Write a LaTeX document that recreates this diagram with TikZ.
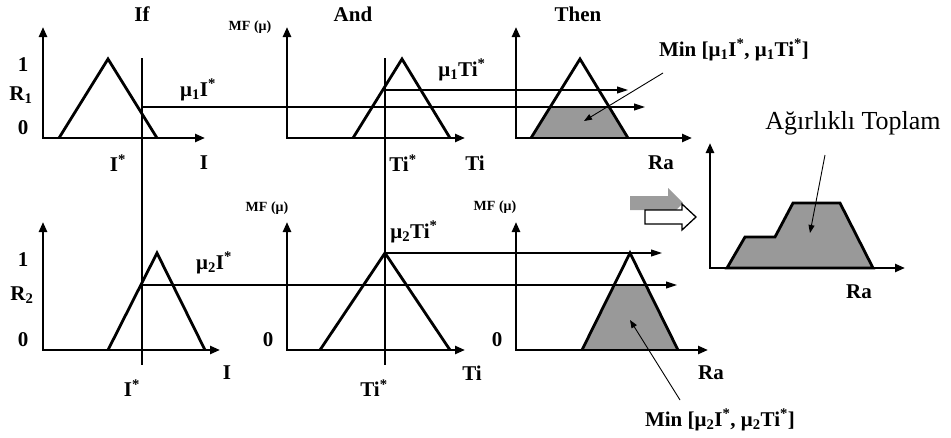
\documentclass[tikz,border=0pt]{standalone}
\usepackage{fontspec}
\setmainfont{Liberation Serif}
\usetikzlibrary{arrows.meta}
\definecolor{fillgrey}{HTML}{999999}
\definecolor{arrowgrey}{HTML}{9C9C9C}

\begin{document}
\begin{tikzpicture}[x=1pt,y=-1pt,
  axis/.style={line width=2.4pt,{Triangle[length=10pt,width=8pt]}-{Triangle[length=10pt,width=8pt]}},
  memb/.style={line width=2.8pt,line join=miter},
  cut/.style={line width=1.1pt,-{Triangle[length=11pt,width=7pt]}},
  guide/.style={line width=1.1pt},
  pointer/.style={line width=0.9pt,-{Triangle[length=8pt,width=6pt]}},
  lbl/.style={font=\bfseries\fontsize{21}{23}\selectfont,inner sep=0pt},
  mflbl/.style={font=\bfseries\fontsize{14}{15}\selectfont,inner sep=0pt},
]
\useasboundingbox (0,0) rectangle (951,437);

% clipped outputs
\fill[fillgrey] (531,138) -- (550.2,107) -- (609.2,107) -- (628,138) -- cycle;
\fill[fillgrey] (582,350) -- (614.2,285) -- (645.8,285) -- (678,350) -- cycle;

% I* and Ti* guides
\coordinate (ig top) at (142,58);
\coordinate (ig bot) at (142,365);
\coordinate (tg top) at (385,58);
\coordinate (tg bot) at (385,365);
\draw[guide] (ig top) -- (ig bot);
\draw[guide] (tg top) -- (tg bot);

% membership cuts
\coordinate (c1i) at (142,107);
\coordinate (c1ie) at (645,107);
\coordinate (c1t) at (385,90);
\coordinate (c1te) at (628,90);
\coordinate (c2i) at (142,285);
\coordinate (c2ie) at (677,285);
\coordinate (c2t) at (385,253);
\coordinate (c2te) at (662,253);
\draw[cut] (c1i) -- (c1ie);
\draw[cut] (c1t) -- (c1te);
\draw[cut] (c2i) -- (c2ie);
\draw[cut] (c2t) -- (c2te);

% membership functions
\draw[memb] (59,138) -- (108,59) -- (157,138);
\draw[memb] (353,138) -- (402,59) -- (450,138);
\draw[memb] (531,138) -- (580,59) -- (628,138);
\draw[memb] (108,350) -- (157,253) -- (205,350);
\draw[memb] (320,350) -- (385,253) -- (450,350);
\draw[memb] (582,350) -- (630,253) -- (678,350);

% weighted sum
\draw[memb,fill=fillgrey] (727,268) -- (745,237) -- (775,237) -- (793,203)
  -- (840,203) -- (873,268) -- cycle;

% axes
\draw[axis] (43,27) |- (205,138);
\draw[axis] (287,27) |- (465,138);
\draw[axis] (516,27) |- (692,138);
\draw[axis] (43,222) |- (220,350);
\draw[axis] (287,222) |- (465,350);
\draw[axis] (516,222) |- (708,350);
\draw[axis] (710,143) |- (905,268);

% aggregation arrows
\fill[arrowgrey] (630,196) -- (668,196) -- (668,188) -- (683,203) -- (668,218)
  -- (668,210) -- (630,210) -- cycle;
\draw[line width=1.3pt,fill=white] (645,210) -- (682,210) -- (682,204) -- (696,217)
  -- (682,230) -- (682,224) -- (645,224) -- cycle;

% headings
\node[lbl] (ifhd) at (142,14) {If};
\node[lbl] (andhd) at (353,14) {And};
\node[lbl] (thenhd) at (578,14) {Then};

% row 1
\node[lbl] (one1) at (23,65) {1};
\node[lbl] (rule1) at (21,95) {R\textsubscript{1}};
\node[lbl] (zero1) at (23,128) {0};
\node[mflbl] (mf12) at (250,27) {MF (μ)};
\node[lbl] (istar1) at (118,163) {I\textsuperscript{*}};
\node[lbl] (ilbl1) at (204,163) {I};
\node[lbl] (tistar1) at (403,163) {Ti\textsuperscript{*}};
\node[lbl] (tilbl1) at (475,163) {Ti};
\node[lbl] (ra1) at (661,163) {Ra};
\node[lbl] (mu1i) at (198,90) {μ\textsubscript{1}I\textsuperscript{*}};
\node[lbl] (mu1ti) at (462,70) {μ\textsubscript{1}Ti\textsuperscript{*}};
\node[lbl] (min1) at (734,50) {Min [μ\textsubscript{1}I\textsuperscript{*}, μ\textsubscript{1}Ti\textsuperscript{*}]};

% row 2
\node[lbl] (one2) at (23,260) {1};
\node[lbl] (rule2) at (22,295) {R\textsubscript{2}};
\node[lbl] (zero2) at (23,340) {0};
\node[lbl] (zero22) at (268,340) {0};
\node[lbl] (zero23) at (497,340) {0};
\node[mflbl] (mf22) at (267,208) {MF (μ)};
\node[mflbl] (mf23) at (495,207) {MF (μ)};
\node[lbl] (istar2) at (132,388) {I\textsuperscript{*}};
\node[lbl] (ilbl2) at (227,373) {I};
\node[lbl] (tistar2) at (374,388) {Ti\textsuperscript{*}};
\node[lbl] (tilbl2) at (472,373) {Ti};
\node[lbl] (ra2) at (711,373) {Ra};
\node[lbl] (mu2i) at (214,263) {μ\textsubscript{2}I\textsuperscript{*}};
\node[lbl] (mu2ti) at (414,232) {μ\textsubscript{2}Ti\textsuperscript{*}};
\node[lbl] (min2) at (720,420) {Min [μ\textsubscript{2}I\textsuperscript{*}, μ\textsubscript{2}Ti\textsuperscript{*}]};

% weighted sum labels
\node[lbl] (ra3) at (859,292) {Ra};
\node[font=\fontsize{26}{28}\selectfont,inner sep=0pt] (agg) at (853,123) {Ağırlıklı Toplam};

% pointers
\coordinate (p1s) at (663,73);
\coordinate (p1e) at (584,121);
\coordinate (p2s) at (680,400);
\coordinate (p2e) at (630,320);
\coordinate (p3s) at (825,155);
\coordinate (p3e) at (810,233);
\draw[pointer] (p1s) -- (p1e);
\draw[pointer] (p2s) -- (p2e);
\draw[pointer] (p3s) -- (p3e);
\end{tikzpicture}
\end{document}
